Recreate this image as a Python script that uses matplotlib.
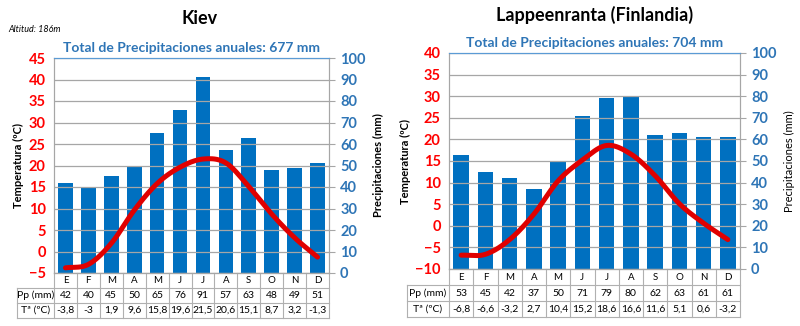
import matplotlib.pyplot as plt
import numpy as np

plt.rcParams['font.family'] = ['Lato', 'DejaVu Sans']

meses = ['E', 'F', 'M', 'A', 'M', 'J', 'J', 'A', 'S', 'O', 'N', 'D']

kiev_pp = [42, 40, 45, 50, 65, 76, 91, 57, 63, 48, 49, 51]
kiev_t = [-3.8, -3, 1.9, 9.6, 15.8, 19.6, 21.5, 20.6, 15.1, 8.7, 3.2, -1.3]

lapp_pp = [53, 45, 42, 37, 50, 71, 79, 80, 62, 63, 61, 61]
lapp_t = [-6.8, -6.6, -3.2, 2.7, 10.4, 15.2, 18.6, 16.6, 11.6, 5.1, 0.6, -3.2]

AZUL = '#0070C0'
AZUL_TXT = '#2E75B6'
ROJO = '#E00000'

W, H = 800, 326


def rect(x0, y0, x1, y1):
    return [x0 / W, 1 - y1 / H, (x1 - x0) / W, (y1 - y0) / H]


def suave(x, y, n=20):
    # curva suavizada tipo Catmull-Rom entre los puntos mensuales
    x = np.asarray(x, float)
    y = np.asarray(y, float)
    px = np.concatenate([[2 * x[0] - x[1]], x, [2 * x[-1] - x[-2]]])
    py = np.concatenate([[2 * y[0] - y[1]], y, [2 * y[-1] - y[-2]]])
    xs, ys = [], []
    for i in range(1, len(px) - 2):
        t = np.linspace(0, 1, n, endpoint=False)
        for p, out in ((px, xs), (py, ys)):
            p0, p1, p2, p3 = p[i - 1], p[i], p[i + 1], p[i + 2]
            out.extend(0.5 * (2 * p1 + (-p0 + p2) * t
                              + (2 * p0 - 5 * p1 + 4 * p2 - p3) * t ** 2
                              + (-p0 + 3 * p1 - 3 * p2 + p3) * t ** 3))
    xs.append(x[-1])
    ys.append(y[-1])
    return xs, ys


def climograma(fig, ax_px, tab_px, pp, t, tmin, total, bold_right=True):
    ax = fig.add_axes(rect(*ax_px))
    ax2 = ax.twinx()
    x = np.arange(12)

    ax2.bar(x, pp, width=0.64, color=AZUL, zorder=2)
    ax2.set_ylim(0, 100)
    ax2.set_yticks(range(0, 101, 10))

    ax.set_ylim(tmin, tmin + 50)
    ax.set_yticks(range(tmin, tmin + 51, 5))
    ax.set_xlim(-0.5, 11.5)
    ax.set_xticks([])
    ax.grid(axis='y', color='#a6a6a6', lw=0.9)
    ax.set_axisbelow(True)

    ax.set_zorder(ax2.get_zorder() + 1)
    ax.patch.set_visible(False)
    xs, ys = suave(x, t)
    ax.plot(xs, ys, color=ROJO, lw=3.6, solid_capstyle='round', zorder=5)

    for a in (ax, ax2):
        for s in a.spines.values():
            s.set_color('#a6a6a6')
        a.spines['top'].set_color('#5b9bd5')
    ax.tick_params(axis='y', length=0, labelsize=10.5, labelcolor='red', pad=6)
    ax2.tick_params(axis='y', length=4, color='#a6a6a6', labelsize=10.5,
                    labelcolor=AZUL_TXT, pad=4)
    for lb in ax.get_yticklabels() + ax2.get_yticklabels():
        lb.set_fontweight('bold')

    ax.set_ylabel('Temperatura (ºC)', fontsize=8, fontweight='bold', labelpad=3)
    ax2.set_ylabel('Precipitaciones (mm)', fontsize=8,
                   fontweight='bold' if bold_right else 'normal', labelpad=5)
    ax.set_title('Total de Precipitaciones anuales: %d mm' % total,
                 fontsize=10, fontweight='bold', color=AZUL_TXT, pad=4)

    # tabla de datos bajo el gráfico
    tb = fig.add_axes(rect(*tab_px))
    cw = (ax_px[2] - ax_px[0]) / 12.0
    lab_w = (ax_px[0] - tab_px[0]) / cw
    tb.set_xlim(-0.5 - lab_w, 11.5)
    tb.set_ylim(0, 3)
    tb.invert_yaxis()
    tb.axis('off')
    lc = '#b0b0b0'
    for r in range(4):
        x0 = -0.5 if r == 0 else -0.5 - lab_w
        tb.plot([x0, 11.5], [r, r], color=lc, lw=0.8, clip_on=False)
    for i in range(13):
        tb.plot([i - 0.5, i - 0.5], [0, 3], color=lc, lw=0.8, clip_on=False)
    tb.plot([-0.5 - lab_w] * 2, [1, 3], color=lc, lw=0.8, clip_on=False)
    for i in range(12):
        tb.text(i, 0.5, meses[i], ha='center', va='center', fontsize=7)
        tb.text(i, 1.5, str(pp[i]), ha='center', va='center', fontsize=7.5)
        tb.text(i, 2.5, ('%g' % t[i]).replace('.', ','), ha='center',
                va='center', fontsize=7.5)
    tb.text(-0.5 - lab_w / 2, 1.5, 'Pp (mm)', ha='center', va='center', fontsize=7.5)
    tb.text(-0.5 - lab_w / 2, 2.5, 'Tª (ºC)', ha='center', va='center', fontsize=7.5)
    return ax


fig = plt.figure(figsize=(8, 3.26), dpi=100)

climograma(fig, (54, 58, 329, 273), (17, 273, 329, 318), kiev_pp, kiev_t, -5, 677)
climograma(fig, (449, 53, 740, 269), (407, 269, 740, 317), lapp_pp, lapp_t, -10, 704,
           bold_right=False)

fig.text(200 / W, 1 - 18 / H, 'Kiev', ha='center', va='center',
         fontsize=13, fontweight='bold')
fig.text(8 / W, 1 - 29 / H, 'Altitud: 186m', ha='left', va='center',
         fontsize=6.5, style='italic')
fig.text(595 / W, 1 - 15 / H, 'Lappeenranta (Finlandia)', ha='center',
         va='center', fontsize=13, fontweight='bold')

fig.savefig('out.png', dpi=100)
